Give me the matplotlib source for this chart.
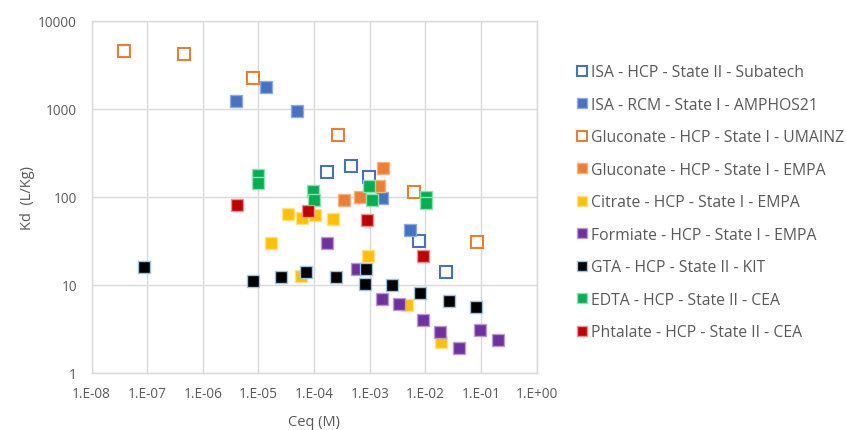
import matplotlib
matplotlib.use("Agg")
import matplotlib.pyplot as plt
from matplotlib.lines import Line2D

plt.rcParams['font.family'] = ['Open Sans', 'DejaVu Sans']

# ---- data ----
isa_sub_x = [1.71e-4, 4.6e-4, 9.8e-4, 7.8e-3, 2.3e-2]
isa_sub_y = [191, 223, 166, 31.6, 13.8]

isa_rcm_x = [3.9e-6, 1.35e-5, 5.0e-5, 1.68e-3, 5.3e-3]
isa_rcm_y = [1213, 1778, 949, 96.7, 42.2]

glu_um_x = [3.9e-8, 4.5e-7, 7.9e-6, 2.72e-4, 6.3e-3, 8.45e-2]
glu_um_y = [4570, 4180, 2230, 507, 114, 30.8]

glu_em_x = [3.49e-4, 6.68e-4, 1.44e-3, 1.75e-3]
glu_em_y = [91.9, 97.9, 133, 210]

cit_x = [1.66e-5, 3.36e-5, 6.14e-5, 1.04e-4, 2.21e-4, 9.4e-4, 5.8e-5, 4.6e-3, 1.9e-2]
cit_y = [29.8, 63.5, 57.3, 61.9, 55.9, 20.9, 12.6, 5.9, 2.2]

form_x = [1.73e-4, 5.83e-4, 1.68e-3, 3.4e-3, 9.2e-3, 1.83e-2, 4.02e-2, 9.57e-2, 2.04e-1]
form_y = [29.8, 15.1, 6.9, 6.0, 4.0, 2.9, 1.91, 3.05, 2.37]

gta_x = [8.9e-8, 7.9e-6, 2.51e-5, 7.14e-5, 2.48e-4, 8.57e-4, 8.2e-4, 2.48e-3, 8.0e-3, 2.69e-2, 8.1e-2]
gta_y = [15.8, 10.9, 12.3, 13.8, 12.1, 15.1, 10.2, 9.9, 8.0, 6.5, 5.6]

edta_x = [9.93e-6, 9.7e-6, 9.55e-5, 9.95e-5, 9.57e-4, 1.11e-3, 1.01e-2, 1.01e-2]
edta_y = [174, 143, 116, 92.3, 131, 92.3, 98, 83.7]

pht_x = [4.17e-6, 7.87e-5, 8.8e-4, 8.9e-3]
pht_y = [80.6, 68.2, 54.9, 21.2]

x_tick_labels = ["1.E-08", "1.E-07", "1.E-06", "1.E-05", "1.E-04", "1.E-03",
                 "1.E-02", "1.E-01", "1.E+00"]
y_tick_labels = ["1", "10", "100", "1000", "10000"]

series = [
    ("ISA - HCP - State II - Subatech", isa_sub_x, isa_sub_y, "white", "#4472C4"),
    ("ISA - RCM - State I - AMPHOS21", isa_rcm_x, isa_rcm_y, "#4472C4", "#8FAADC"),
    ("Gluconate - HCP - State I - UMAINZ", glu_um_x, glu_um_y, "white", "#ED7D31"),
    ("Gluconate - HCP - State I - EMPA", glu_em_x, glu_em_y, "#ED7D31", "#F4B183"),
    ("Citrate - HCP - State I - EMPA", cit_x, cit_y, "#FFC000", "#FFE08A"),
    ("Formiate - HCP - State I - EMPA", form_x, form_y, "#7030A0", "#B79BD0"),
    ("GTA - HCP - State II - KIT", gta_x, gta_y, "#000000", "#9DC3E6"),
    ("EDTA - HCP - State II - CEA", edta_x, edta_y, "#00B050", "#8FE0B0"),
    ("Phtalate - HCP - State II - CEA", pht_x, pht_y, "#C00000", "#F09090"),
]

fig = plt.figure(figsize=(8.46, 4.31), dpi=100)
ax = fig.add_axes([91.5/846, 1-373.5/431, (536.7-91.5)/846, (373.5-21.7)/431])

handles = []
for i, (lab, xs, ys, fc, ec) in enumerate(series):
    open_m = fc == "white"
    ax.plot(xs, ys, ls='none', marker='s', ms=8.8, mfc=fc, mec=ec,
            mew=1.5 if open_m else 1.0, zorder=3+i)
    handles.append(Line2D([], [], ls='none', marker='s', ms=7.2, mfc=fc, mec=ec,
                          mew=1.5 if open_m else 1.0, label=lab))

ax.set_xscale('log')
ax.set_yscale('log')
ax.set_xlim(1e-8, 1)
ax.set_ylim(1, 10000)
ax.set_xticks([10.0**k for k in range(-8, 1)])
ax.set_xticklabels(x_tick_labels)
ax.set_yticks([1, 10, 100, 1000, 10000])
ax.set_yticklabels(y_tick_labels)
ax.minorticks_off()
ax.tick_params(length=0, labelsize=9.8, colors="#595959")
ax.tick_params(axis='x', pad=10)
ax.tick_params(axis='y', pad=10.5)
ax.grid(True, color="#D9D9D9", lw=1.0)
ax.set_axisbelow(True)
for s in ax.spines.values():
    s.set_color("#D9D9D9")
    s.set_linewidth(1.0)

ax.set_xlabel("Ceq (M)", fontsize=10.5, color="#595959", labelpad=9)
ax.set_ylabel("Kd  (L/Kg)", fontsize=10.5, color="#595959", labelpad=2)

leg = fig.legend(handles=handles, loc='upper left', bbox_to_anchor=(571.0/846, 1-59.0/431),
                 frameon=False, fontsize=11.3, labelspacing=1.05, handlelength=0.6,
                 handletextpad=0.3, borderaxespad=0)
for t in leg.get_texts():
    t.set_color("#595959")

fig.savefig("out.png", dpi=100)
